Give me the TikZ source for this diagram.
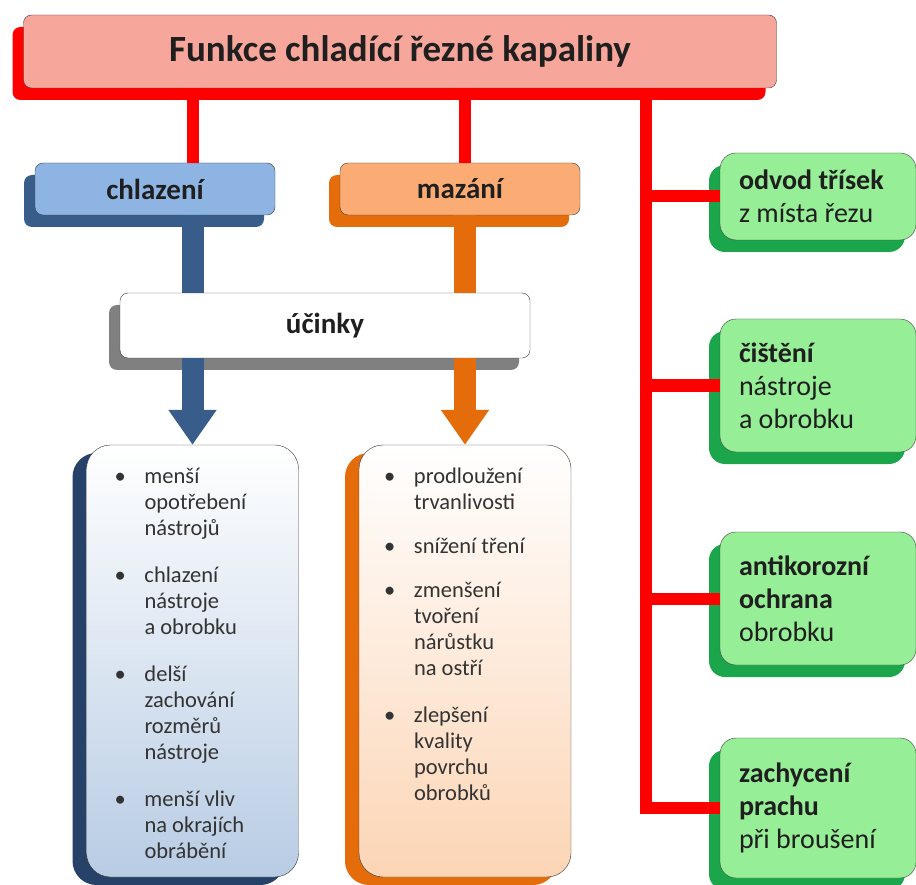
\documentclass[tikz,border=0pt]{standalone}
\usepackage{fontspec}
\setmainfont{Carlito}
\usetikzlibrary{arrows.meta,shadows,positioning}

\definecolor{cervena}{RGB}{255,0,0}
\definecolor{losos}{RGB}{246,166,154}
\definecolor{modra}{RGB}{141,180,226}
\definecolor{modraTm}{RGB}{56,93,138}
\definecolor{modraSt}{RGB}{38,66,104}
\definecolor{modraSv}{RGB}{184,204,228}
\definecolor{oranz}{RGB}{250,172,116}
\definecolor{oranzTm}{RGB}{228,108,10}
\definecolor{oranzSv}{RGB}{252,213,181}
\definecolor{zelena}{RGB}{150,238,150}
\definecolor{zelenaTm}{RGB}{28,166,76}
\definecolor{seda}{RGB}{128,128,128}

\newcommand{\odr}{\makebox[30pt][l]{\textbullet}}
\newcommand{\odsaz}{\hspace*{30pt}}

\begin{document}
\begin{tikzpicture}[x=1pt, y=-1pt,
      box/.style={draw=black!75, thin, rounded corners=8pt, text=black!88},
      stin/.style={general shadow={fill=#1, shadow xshift=-11pt, shadow yshift=-12pt}},
      hlav/.style={box, minimum width=240pt, minimum height=52pt, font=\fontsize{29}{33}\selectfont\bfseries},
      seznam/.style={draw=black!80, rounded corners=24pt, minimum width=212pt, minimum height=432pt},
      polozky/.style={align=flush left, inner sep=0pt, font=\fontsize{22.5}{26}\selectfont, text=black!80},
      zel/.style={box, rounded corners=16pt, fill=zelena, stin=zelenaTm, text width=158pt, inner xsep=19pt, align=flush left, font=\fontsize{28}{33}\selectfont},
      spoj/.style={draw=cervena, line width=12pt},
      sipka/.style={line width=22pt, -{Triangle[width=46pt,length=35pt]}}
    ]
    \useasboundingbox (0,0) rectangle (916,885);

    % --- nadpis ---
    \node[box, fill=losos, stin=cervena, minimum width=753pt, minimum height=73pt,
          font=\fontsize{37}{42}\selectfont\bfseries] (nadpis) at (400,51.5) {Funkce chladící řezné kapaliny};

    % --- chlazeni a mazani ---
    \node[hlav, fill=modra, stin=modraTm] (chlaz) at (155,189) {chlazení};
    \node[hlav, fill=oranz, stin=oranzTm] (maz) at (460,189) {mazání};
    \node[box, fill=white, stin=seda, minimum width=410pt, minimum height=65pt,
          font=\fontsize{29}{33}\selectfont\bfseries] (ucinky) at (325,325.5) {účinky};

    % --- seznamy ucinku ---
    \node[seznam, top color=white, bottom color=modraSv,
          general shadow={fill=modraSt, shadow xshift=-14pt, shadow yshift=-8pt}] (chlSez) at (192.5,661) {};
    \node[seznam, top color=white, bottom color=oranzSv,
          general shadow={fill=oranzTm, shadow xshift=-14pt, shadow yshift=-8pt}] (mazSez) at (465,661) {};

    \node[polozky, below right=23pt and 28pt of chlSez.north west] (chlText) {%
      \odr menší\\ \odsaz opotřebení\\ \odsaz nástrojů\\[21pt]
      \odr chlazení\\ \odsaz nástroje\\ \odsaz a obrobku\\[21pt]
      \odr delší\\ \odsaz zachování\\ \odsaz rozměrů\\ \odsaz nástroje\\[21pt]
      \odr menší vliv\\ \odsaz na okrajích\\ \odsaz obrábění};
    \node[polozky, below right=23pt and 25pt of mazSez.north west] (mazText) {%
      \odr prodloužení\\ \odsaz trvanlivosti\\[18pt]
      \odr snížení tření\\[18pt]
      \odr zmenšení\\ \odsaz tvoření\\ \odsaz nárůstku\\ \odsaz na ostří\\[21pt]
      \odr zlepšení\\ \odsaz kvality\\ \odsaz povrchu\\ \odsaz obrobků};

    % --- dalsi funkce ---
    \node[zel, minimum height=87pt] (odvod) at (818,196.5) {\textbf{odvod třísek}\\ z místa řezu};
    \node[zel, minimum height=133pt] (cisteni) at (818,385.5) {\textbf{čištění}\\ nástroje\\ a obrobku};
    \node[zel, minimum height=133pt] (koroze) at (818,598.5) {\textbf{antikorozní}\\ \textbf{ochrana}\\ obrobku};
    \node[zel, minimum height=140pt] (prach) at (818,808) {\textbf{zachycení}\\ \textbf{prachu}\\ při broušení};

    % --- spoje ---
    \coordinate (kmen) at (646,100);
    \draw[spoj] (nadpis.south -| chlSez.north) -- (chlaz.north -| chlSez.north);
    \draw[spoj] (nadpis.south -| mazSez.north) -- (maz.north -| mazSez.north);
    \draw[spoj] (nadpis.south -| kmen) -- (kmen |- prach.west) -- (prach.west);
    \foreach \f in {odvod,cisteni,koroze}
      \draw[spoj] (kmen |- \f.west) -- (\f.west);

    \draw[modraTm, line width=22pt] (chlaz.south -| chlSez.north) -- (ucinky.north -| chlSez.north);
    \draw[modraTm, sipka] (ucinky.south -| chlSez.north) -- (chlSez.north);
    \draw[oranzTm, line width=22pt] (maz.south -| mazSez.north) -- (ucinky.north -| mazSez.north);
    \draw[oranzTm, sipka] (ucinky.south -| mazSez.north) -- (mazSez.north);
  \end{tikzpicture}
\end{document}
